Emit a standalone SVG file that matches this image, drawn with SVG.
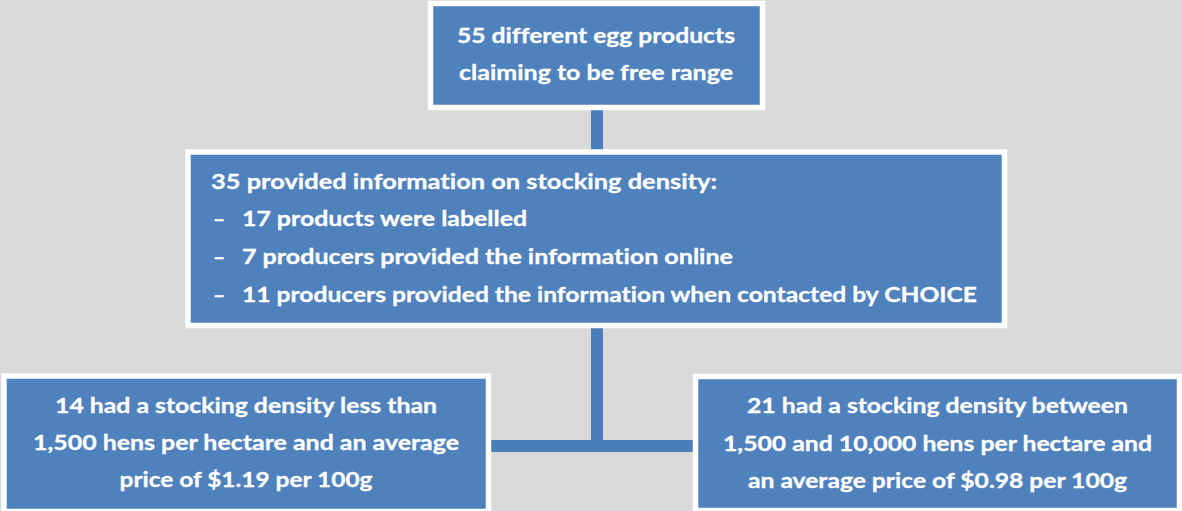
<svg xmlns="http://www.w3.org/2000/svg" width="1182" height="511" viewBox="0 0 1182 511">
<style>
.box{fill:#4F81BD;stroke:#FFFFFF;stroke-width:5.5}
.t{font-family:Lato,"Open Sans","Liberation Sans",sans-serif;font-weight:bold;font-size:21px;fill:#FFFFFF;stroke:#FFFFFF;stroke-width:0.3;font-variant-ligatures:none}
.c{text-anchor:middle}
.conn{fill:#4A7EBB}
</style>
<rect width="1182" height="511" fill="#D9D9D9"/>
<g id="connectors">
<rect class="conn" x="591" y="109" width="12" height="43"/>
<rect class="conn" x="591" y="326" width="12" height="120"/>
<rect class="conn" x="489" y="440" width="206" height="12"/>
</g>
<g id="node-top">
<rect class="box" x="430.5" y="3.5" width="332" height="104"/>
<text class="t c" x="596" y="43" textLength="278" lengthAdjust="spacingAndGlyphs">55 different egg products</text>
<text class="t c" x="596" y="80" textLength="274" lengthAdjust="spacingAndGlyphs">claiming to be free range</text>
</g>
<g id="node-middle">
<rect class="box" x="188" y="152" width="816.5" height="173.5"/>
<text class="t" x="211" y="189" textLength="506" lengthAdjust="spacingAndGlyphs">35 provided information on stocking density:</text>
<text class="t" x="213" y="226">–</text>
<text class="t" x="242" y="226" textLength="285" lengthAdjust="spacingAndGlyphs">17 products were labelled</text>
<text class="t" x="213" y="264">–</text>
<text class="t" x="242" y="264" textLength="491" lengthAdjust="spacingAndGlyphs">7 producers provided the information online</text>
<text class="t" x="213" y="302">–</text>
<text class="t" x="242" y="302" textLength="735" lengthAdjust="spacingAndGlyphs">11 producers provided the information when contacted by CHOICE</text>
</g>
<g id="node-left">
<rect class="box" x="4" y="376" width="484.5" height="135.5"/>
<text class="t c" x="246" y="413" textLength="382" lengthAdjust="spacingAndGlyphs">14 had a stocking density less than</text>
<text class="t c" x="246" y="450" textLength="426" lengthAdjust="spacingAndGlyphs">1,500 hens per hectare and an average</text>
<text class="t c" x="246" y="487" textLength="253" lengthAdjust="spacingAndGlyphs">price of $1.19 per 100g</text>
</g>
<g id="node-right">
<rect class="box" x="695.5" y="376.5" width="484" height="134"/>
<text class="t c" x="937.5" y="413" textLength="381" lengthAdjust="spacingAndGlyphs">21 had a stocking density between</text>
<text class="t c" x="937.5" y="451" textLength="429" lengthAdjust="spacingAndGlyphs">1,500 and 10,000 hens per hectare and</text>
<text class="t c" x="937.5" y="488" textLength="379" lengthAdjust="spacingAndGlyphs">an average price of $0.98 per 100g</text>
</g>
</svg>
